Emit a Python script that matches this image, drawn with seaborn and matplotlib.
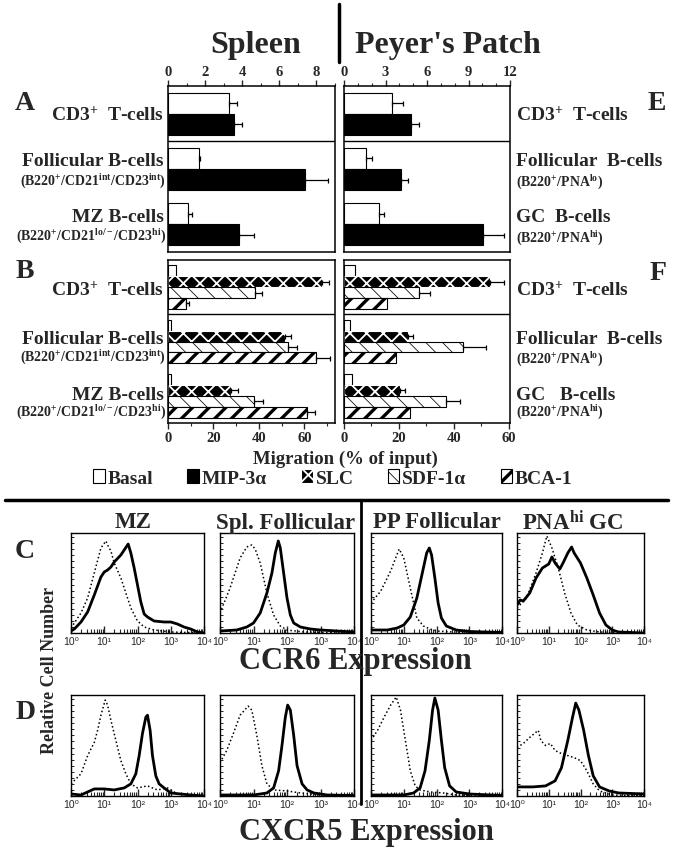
import numpy as np
import pandas as pd
import matplotlib
matplotlib.use("Agg")
import matplotlib.pyplot as plt
import seaborn as sns
from matplotlib.patches import Patch
from matplotlib.lines import Line2D
from matplotlib.ticker import AutoMinorLocator, LogLocator, NullFormatter

# ---------- data: migration assays ----------
spl_cells = ["CD3", "Fol", "MZ"]
pp_cells = ["CD3", "Fol", "GC"]
stim_a = ["Basal", "MIP-3α"]
stim_b = ["Basal", "SLC", "SDF-1α", "BCA-1"]

# panel A (spleen) / E (Peyer's patch), % of input
spl_a_basal = [3.3, 1.65, 1.1]
spl_a_basal_err = [0.4, 0.1, 0.2]
spl_a_mip = [3.55, 7.4, 3.8]
spl_a_mip_err = [0.45, 1.2, 0.85]
pp_a_basal = [3.5, 1.6, 2.5]
pp_a_basal_err = [0.8, 0.45, 0.4]
pp_a_mip = [4.85, 4.1, 10.05]
pp_a_mip_err = [0.6, 0.5, 1.55]

# panel B (spleen) / F (Peyer's patch)
spl_b_basal = [3.4, 1.5, 1.5]
spl_b_slc = [67.8, 51.3, 27.7]
spl_b_slc_err = [3.0, 2.7, 3.3]
spl_b_sdf = [38.2, 52.8, 37.9]
spl_b_sdf_err = [3.1, 4.0, 4.1]
spl_b_bca = [7.8, 65.0, 61.2]
spl_b_bca_err = [1.5, 6.3, 3.5]
pp_b_basal = [3.9, 2.3, 3.0]
pp_b_slc = [53.3, 23.3, 20.5]
pp_b_slc_err = [5.1, 1.8, 1.6]
pp_b_sdf = [27.3, 43.3, 37.2]
pp_b_sdf_err = [4.1, 8.5, 5.1]
pp_b_bca = [15.8, 18.8, 24.1]
pp_b_bca_err = [0, 0, 0]

# ---------- data: flow histograms (log10 intensity, % of max) ----------
c_mz_pos_x = [0, 0.1, 0.3, 0.5, 0.7, 0.9, 1.0, 1.1, 1.2, 1.3, 1.5, 1.6, 1.72, 1.8, 1.9, 2.0, 2.1, 2.2, 2.3, 2.5, 2.8, 3.0, 3.2, 3.4, 3.6, 3.8, 4.0]
c_mz_pos_y = [2, 4, 11, 21, 38, 56, 61, 63, 66, 71, 78, 83, 89, 80, 65, 48, 31, 19, 16, 12, 11, 11, 9, 6, 4, 1, 0]
c_mz_neg_x = [0, 0.3, 0.5, 0.7, 0.9, 1.05, 1.1, 1.2, 1.3, 1.5, 1.6, 1.7, 1.8, 2.0, 2.2, 2.5, 3.0, 4.0]
c_mz_neg_y = [5, 20, 35, 60, 85, 92, 88, 82, 70, 55, 45, 35, 25, 12, 6, 3, 1, 0]
c_sf_pos_x = [0, 0.5, 0.8, 1.0, 1.2, 1.4, 1.55, 1.65, 1.74, 1.8, 1.9, 2.0, 2.1, 2.2, 2.4, 2.7, 3.0, 4.0]
c_sf_pos_y = [2, 3, 6, 10, 20, 40, 60, 80, 92, 85, 60, 35, 18, 10, 6, 4, 3, 1]
c_sf_neg_x = [0, 0.3, 0.6, 0.8, 0.95, 1.05, 1.2, 1.4, 1.6, 1.8, 2.0, 2.5, 4.0]
c_sf_neg_y = [20, 45, 75, 86, 88, 84, 70, 40, 18, 7, 3, 1, 0]
c_pp_pos_x = [0, 0.5, 0.8, 1.0, 1.2, 1.4, 1.5, 1.6, 1.7, 1.78, 1.85, 1.95, 2.05, 2.15, 2.3, 2.6, 3.0, 4.0]
c_pp_pos_y = [3, 3, 5, 8, 16, 35, 50, 65, 80, 85, 78, 55, 30, 15, 7, 3, 1.5, 0.5]
c_pp_neg_x = [0, 0.3, 0.6, 0.86, 1.0, 1.2, 1.4, 1.6, 1.8, 2.0, 2.5, 4.0]
c_pp_neg_y = [30, 42, 62, 84, 75, 45, 15, 7, 4, 2, 1, 0]
c_gc_pos_x = [0, 0.1, 0.2, 0.4, 0.6, 0.8, 1.0, 1.1, 1.2, 1.35, 1.45, 1.6, 1.72, 1.8, 2.0, 2.2, 2.4, 2.6, 2.8, 3.0, 3.2, 4.0]
c_gc_pos_y = [28, 33, 32, 40, 55, 65, 69, 76, 70, 64, 70, 80, 86, 80, 70, 55, 38, 20, 8, 3, 1, 0]
c_gc_neg_x = [0, 0.3, 0.6, 0.8, 0.94, 1.1, 1.3, 1.5, 1.7, 1.9, 2.2, 2.6, 4.0]
c_gc_neg_y = [25, 35, 60, 80, 97, 85, 65, 40, 20, 8, 3, 1, 0]

d_mz_pos_x = [0, 0.3, 0.7, 1.0, 1.3, 1.6, 1.8, 1.95, 2.05, 2.15, 2.25, 2.3, 2.38, 2.45, 2.55, 2.65, 2.8, 3.0, 3.3, 3.6, 4.0]
d_mz_pos_y = [2, 1, 7, 7, 6, 8, 12, 22, 40, 62, 78, 80, 65, 40, 20, 12, 8, 3, 2, 1, 0]
d_mz_neg_x = [0, 0.3, 0.5, 0.7, 0.8, 0.9, 1.03, 1.1, 1.2, 1.35, 1.5, 1.65, 1.8, 2.0, 2.3, 2.6, 2.9, 3.2, 3.6, 4.0]
d_mz_neg_y = [12, 22, 40, 53, 65, 80, 95, 90, 75, 55, 35, 22, 12, 8, 10, 6, 8, 2, 1, 0]
d_sf_pos_x = [0, 1.0, 1.4, 1.6, 1.75, 1.85, 1.95, 2.02, 2.1, 2.2, 2.3, 2.45, 2.6, 2.8, 3.2, 4.0]
d_sf_pos_y = [1, 1, 3, 8, 25, 50, 78, 90, 85, 60, 30, 12, 6, 3, 1, 0.5]
d_sf_neg_x = [0, 0.2, 0.4, 0.6, 0.84, 0.95, 1.1, 1.25, 1.4, 1.6, 2.0, 2.4, 3.0, 4.0]
d_sf_neg_y = [33, 45, 62, 80, 89, 85, 60, 30, 12, 6, 5, 3, 1, 0]
d_pp_pos_x = [0, 1.0, 1.3, 1.5, 1.65, 1.78, 1.88, 1.95, 2.05, 2.15, 2.25, 2.4, 2.6, 3.0, 4.0]
d_pp_pos_y = [1, 1, 3, 8, 25, 55, 85, 97, 85, 55, 28, 10, 4, 2, 0.5]
d_pp_neg_x = [0, 0.2, 0.4, 0.6, 0.77, 0.9, 1.05, 1.2, 1.35, 1.5, 1.8, 2.2, 2.6, 4.0]
d_pp_neg_y = [55, 65, 78, 90, 98, 85, 55, 25, 10, 6, 4, 3, 1, 0]
d_gc_pos_x = [0, 0.5, 0.9, 1.2, 1.4, 1.6, 1.75, 1.85, 1.95, 2.1, 2.25, 2.4, 2.6, 2.9, 3.2, 4.0]
d_gc_pos_y = [9, 9, 10, 15, 28, 55, 78, 92, 85, 65, 40, 20, 9, 5, 3, 2]
d_gc_neg_x = [0, 0.2, 0.4, 0.67, 0.75, 0.9, 1.05, 1.2, 1.4, 1.6, 1.8, 2.0, 2.2, 2.4, 2.6, 3.0, 4.0]
d_gc_neg_y = [48, 52, 58, 65, 55, 50, 52, 45, 42, 40, 38, 35, 25, 12, 5, 1, 0]

hist_ticklabels = ["10⁰", "10¹", "10²", "10³", "10⁴"]

# ---------- style ----------
sns.set_style("white")
plt.rcParams["font.family"] = ["Liberation Serif", "DejaVu Serif"]
plt.rcParams["font.weight"] = "bold"
plt.rcParams["mathtext.fontset"] = "custom"
plt.rcParams["mathtext.rm"] = "Liberation Serif:bold"
plt.rcParams["mathtext.it"] = "Liberation Serif:bold"
plt.rcParams["mathtext.bf"] = "Liberation Serif:bold"
plt.rcParams["mathtext.default"] = "rm"
plt.rcParams["axes.edgecolor"] = "black"
plt.rcParams["hatch.linewidth"] = 1.0

styles = {
    "Basal": dict(fc="white", ec="black", hatch=None, hlw=1.0),
    "MIP-3α": dict(fc="black", ec="black", hatch=None, hlw=1.0),
    "SLC": dict(fc="black", ec="white", hatch="xx", hlw=1.3),
    "SDF-1α": dict(fc="white", ec="black", hatch="\\\\", hlw=0.55),
    "BCA-1": dict(fc="white", ec="black", hatch="//", hlw=2.4),
}

W, H = 677, 853
fig = plt.figure(figsize=(W / 100, H / 100), dpi=100)


def box(x0, y0, x1, y1):
    return [x0 / W, 1 - y1 / H, (x1 - x0) / W, (y1 - y0) / H]


def put(x, y, s, size, ha="center", **kw):
    fig.text(x / W, 1 - y / H, s, fontsize=size, ha=ha, va="center",
             fontweight="bold", **kw)


def style_patch(p, st):
    p.set_facecolor(st["fc"])
    p.set_edgecolor(st["ec"])
    p.set_linewidth(0.8)
    if st["hatch"]:
        p.set_hatch(st["hatch"])
        if hasattr(p, "set_hatch_linewidth"):
            p.set_hatch_linewidth(st["hlw"])


def bars(ax, cells, stims, vals, errs, width):
    rows = []
    for s, v in zip(stims, vals):
        for c, x in zip(cells, v):
            rows.append({"cell": c, "stim": s, "val": x})
    df = pd.DataFrame(rows)
    sns.barplot(data=df, x="val", y="cell", hue="stim", order=cells,
                hue_order=stims, orient="h", width=width, errorbar=None,
                palette={s: styles[s]["fc"] for s in stims}, legend=False, ax=ax)
    for s, cont, err in zip(stims, ax.containers, errs):
        for p in cont.patches:
            style_patch(p, styles[s])
        xs = [p.get_width() for p in cont.patches]
        ys = [p.get_y() + p.get_height() / 2 for p in cont.patches]
        keep = [i for i, e in enumerate(err) if e > 0]
        if keep:
            ax.errorbar([xs[i] for i in keep], [ys[i] for i in keep],
                        xerr=[[0] * len(keep), [err[i] for i in keep]],
                        fmt="none", ecolor="black", elinewidth=0.9, capsize=1.8,
                        capthick=0.9)
    ax.axhline(0.5, color="black", lw=1.0)
    ax.set_ylim(2.5, -0.5)
    ax.set_yticks([])
    ax.set_xlabel("")
    ax.set_ylabel("")
    for sp in ax.spines.values():
        sp.set_visible(True)
        sp.set_linewidth(1.1)


# ---------- panels A / E ----------
axA = fig.add_axes(box(168, 87, 335, 253))
bars(axA, spl_cells, stim_a, [spl_a_basal, spl_a_mip],
     [spl_a_basal_err, spl_a_mip_err], 0.76)
axA.set_xlim(0, 9)
axA.set_xticks([0, 2, 4, 6, 8])
axE = fig.add_axes(box(344, 87, 510, 253))
bars(axE, pp_cells, stim_a, [pp_a_basal, pp_a_mip],
     [pp_a_basal_err, pp_a_mip_err], 0.76)
axE.set_xlim(0, 12)
axE.set_xticks([0, 3, 6, 9, 12])
for ax, nminor in [(axA, 2), (axE, 3)]:
    ax.xaxis.tick_top()
    ax.xaxis.set_minor_locator(AutoMinorLocator(nminor))
    ax.tick_params(axis="x", which="major", direction="out", length=4,
                   width=1, labelsize=10.5, pad=1.5)
    ax.tick_params(axis="x", which="minor", direction="out", length=2, width=0.8)

# ---------- panels B / F ----------
axB = fig.add_axes(box(168, 261, 335, 424))
bars(axB, spl_cells, stim_b, [spl_b_basal, spl_b_slc, spl_b_sdf, spl_b_bca],
     [[0, 0, 0], spl_b_slc_err, spl_b_sdf_err, spl_b_bca_err], 0.8)
axB.set_xlim(0, 73.5)
axF = fig.add_axes(box(344, 261, 510, 424))
bars(axF, pp_cells, stim_b, [pp_b_basal, pp_b_slc, pp_b_sdf, pp_b_bca],
     [[0, 0, 0], pp_b_slc_err, pp_b_sdf_err, pp_b_bca_err], 0.8)
axF.set_xlim(0, 60.5)
for ax in (axB, axF):
    ax.set_xticks([0, 20, 40, 60])
    ax.xaxis.set_minor_locator(AutoMinorLocator(2))
    ax.tick_params(axis="x", which="major", direction="out", length=4,
                   width=1, labelsize=10.5, pad=1.5, bottom=True)
    ax.tick_params(axis="x", which="minor", direction="out", length=2,
                   width=0.8, bottom=True)

# ---------- bar panel texts ----------
put(256, 45, "Spleen", 23)
put(355, 45, "Peyer's Patch", 23, ha="left")
put(25, 103, "A", 20)
put(25, 272, "B", 20)
put(657, 103, "E", 20)
put(658, 273, "F", 20)

left_sets = [
    (115, "CD3$^{+}$  T-cells", None, None),
    (161, "Follicular B-cells", 182, "(B220$^{+}$/CD21$^{int}$/CD23$^{int}$)"),
    (218, "MZ B-cells", 237, "(B220$^{+}$/CD21$^{lo/-}$/CD23$^{hi}$)"),
    (290, "CD3$^{+}$  T-cells", None, None),
    (340, "Follicular B-cells", 358, "(B220$^{+}$/CD21$^{int}$/CD23$^{int}$)"),
    (396, "MZ B-cells", 413, "(B220$^{+}$/CD21$^{lo/-}$/CD23$^{hi}$)"),
]
for y, main, ys, sub in left_sets:
    put(164, y, main, 14, ha="right")
    if sub:
        put(166, ys, sub, 10, ha="right")

right_sets = [
    (115, "CD3$^{+}$  T-cells", None, None),
    (161, "Follicular  B-cells", 183, "(B220$^{+}$/PNA$^{lo}$)"),
    (218, "GC  B-cells", 239, "(B220$^{+}$/PNA$^{hi}$)"),
    (290, "CD3$^{+}$  T-cells", None, None),
    (340, "Follicular  B-cells", 360, "(B220$^{+}$/PNA$^{lo}$)"),
    (395, "GC   B-cells", 413, "(B220$^{+}$/PNA$^{hi}$)"),
]
for y, main, ys, sub in right_sets:
    put(516, y, main, 14, ha="left")
    if sub:
        put(516, ys, sub, 10, ha="left")

put(345, 459, "Migration (% of input)", 13.5)

legend_labels = ["Basal", "MIP-3α", "SLC", "SDF-1α", "BCA-1"]
handles = []
for s in legend_labels:
    st = styles[s]
    handles.append(Patch(facecolor=st["fc"], edgecolor=st["ec"],
                         hatch=st["hatch"], linewidth=0.8))
leg = fig.legend(handles, legend_labels,
                 loc="center", bbox_to_anchor=(333 / W, 1 - 479 / H), ncol=5,
                 frameon=False, prop={"weight": "bold", "size": 14},
                 handlelength=0.6, handleheight=0.75, handletextpad=0.15,
                 columnspacing=1.75, borderpad=0)
for p, s in zip(leg.get_patches(), legend_labels):
    style_patch(p, styles[s])

# ---------- separators ----------
fig.add_artist(Line2D([339 / W, 339 / W], [1 - 5 / H, 1 - 63 / H],
                      color="black", lw=2.5, transform=fig.transFigure))
fig.add_artist(Line2D([5 / W, 668 / W], [1 - 501 / H, 1 - 501 / H],
                      color="black", lw=2.5, transform=fig.transFigure))
fig.add_artist(Line2D([361 / W, 361 / W], [1 - 502 / H, 1 - 805 / H],
                      color="black", lw=2.0, transform=fig.transFigure))

# ---------- histograms ----------
hist_cols = [(71, 204), (220, 354), (371, 502), (517, 644)]
rows = [
    ((534, 634), [(c_mz_pos_x, c_mz_pos_y, c_mz_neg_x, c_mz_neg_y),
                  (c_sf_pos_x, c_sf_pos_y, c_sf_neg_x, c_sf_neg_y),
                  (c_pp_pos_x, c_pp_pos_y, c_pp_neg_x, c_pp_neg_y),
                  (c_gc_pos_x, c_gc_pos_y, c_gc_neg_x, c_gc_neg_y)]),
    ((696, 797), [(d_mz_pos_x, d_mz_pos_y, d_mz_neg_x, d_mz_neg_y),
                  (d_sf_pos_x, d_sf_pos_y, d_sf_neg_x, d_sf_neg_y),
                  (d_pp_pos_x, d_pp_pos_y, d_pp_neg_x, d_pp_neg_y),
                  (d_gc_pos_x, d_gc_pos_y, d_gc_neg_x, d_gc_neg_y)]),
]
for (y0, y1), curves in rows:
    for (x0, x1), (px, py, nx, ny) in zip(hist_cols, curves):
        ax = fig.add_axes(box(x0, y0, x1, y1))
        sns.lineplot(x=10 ** np.array(nx), y=ny, ax=ax, color="black",
                     linewidth=1.1, linestyle=(0, (1, 1.6)), estimator=None, sort=False)
        sns.lineplot(x=10 ** np.array(px), y=py, ax=ax, color="black",
                     linewidth=2.0, estimator=None, sort=False)
        ax.set_xscale("log")
        ax.set_xlim(1, 1e4)
        ax.set_ylim(0, 100)
        ax.set_xticks([1, 10, 100, 1000, 10000])
        ax.set_xticklabels(hist_ticklabels, fontfamily=["Liberation Sans", "DejaVu Sans"],
                           fontsize=7.5, fontweight="normal")
        ax.xaxis.set_minor_locator(LogLocator(base=10, subs=np.arange(2, 10) * 1.0, numticks=20))
        ax.xaxis.set_minor_formatter(NullFormatter())
        ax.tick_params(axis="x", which="major", direction="in", length=5, width=1, pad=2, bottom=True)
        ax.tick_params(axis="x", which="minor", direction="in", length=3, width=0.8, bottom=True)
        ax.set_yticks(np.arange(0, 101, 6))
        ax.set_yticklabels([])
        ax.tick_params(axis="y", direction="in", length=2, width=0.7, left=True)
        ax.set_xlabel("")
        ax.set_ylabel("")
        for sp in ax.spines.values():
            sp.set_visible(True)
            sp.set_linewidth(1.0)

put(133, 523, "MZ", 16.5)
put(285, 523, "Spl. Follicular", 16.5)
put(437, 523, "PP Follicular", 16.5)
put(573, 523, "PNA$^{hi}$ GC", 16.5)
put(25, 551, "C", 20)
put(26, 713, "D", 20)
put(50, 670, "Relative Cell Number", 13, rotation=90)
put(355, 662, "CCR6 Expression", 22)
put(366, 833, "CXCR5 Expression", 22)

fig.savefig("out.png", dpi=100)
